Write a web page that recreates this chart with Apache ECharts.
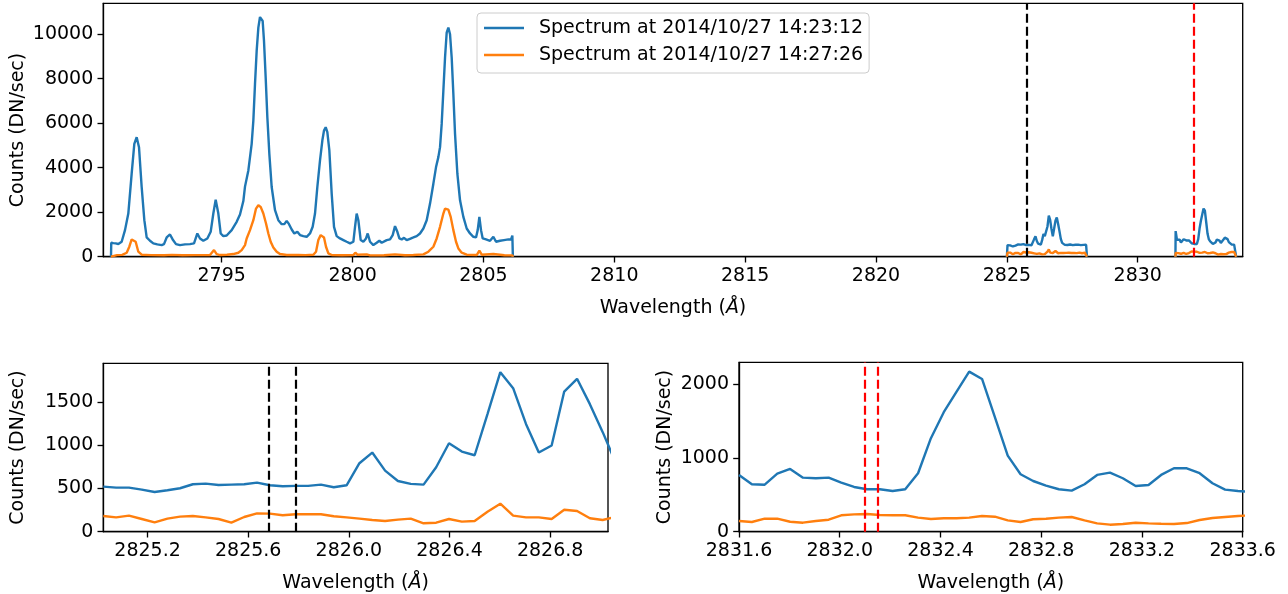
<!DOCTYPE html>
<html>
<head>
<meta charset="utf-8">
<title>IRIS NUV spectra</title>
<script src="https://cdn.jsdelivr.net/npm/echarts@6.0.0/dist/echarts.min.js"></script>
<style>
  html, body { margin: 0; padding: 0; background: #ffffff; }
  #chart { width: 1288px; height: 594px; }
</style>
</head>
<body>
<div id="chart"></div>
<script>
// ---- series labels -------------------------------------------------------
const nameA = 'Spectrum at 2014/10/27 14:23:12';
const nameB = 'Spectrum at 2014/10/27 14:27:26';

// ---- Mg II window (2790.8 - 2806.1 Å), counts in DN/sec -------------------
const mainWlA = [
  2790.770, 2790.780, 2790.859, 2790.950, 2791.050, 2791.178, 2791.305, 2791.432,
  2791.560, 2791.661, 2791.751, 2791.840, 2791.942, 2792.044, 2792.133, 2792.260,
  2792.387, 2792.540, 2792.706, 2792.795, 2792.897, 2793.024, 2793.126, 2793.254,
  2793.407, 2793.598, 2793.789, 2793.942, 2794.069, 2794.171, 2794.298, 2794.451,
  2794.579, 2794.680, 2794.770, 2794.871, 2794.961, 2795.062, 2795.190, 2795.381,
  2795.572, 2795.699, 2795.827, 2795.890, 2796.018, 2796.145, 2796.209, 2796.272,
  2796.336, 2796.400, 2796.463, 2796.502, 2796.565, 2796.616, 2796.680, 2796.744,
  2796.820, 2796.909, 2797.037, 2797.164, 2797.292, 2797.393, 2797.483, 2797.572,
  2797.674, 2797.775, 2797.890, 2797.992, 2798.119, 2798.247, 2798.374, 2798.476,
  2798.565, 2798.654, 2798.756, 2798.845, 2798.909, 2798.973, 2799.036, 2799.113,
  2799.202, 2799.291, 2799.393, 2799.520, 2799.648, 2799.775, 2799.903, 2800.030,
  2800.094, 2800.157, 2800.221, 2800.310, 2800.412, 2800.514, 2800.578, 2800.667,
  2800.794, 2800.922, 2801.023, 2801.113, 2801.176, 2801.304, 2801.431, 2801.533,
  2801.622, 2801.711, 2801.788, 2801.877, 2801.966, 2802.068, 2802.195, 2802.323,
  2802.450, 2802.577, 2802.705, 2802.832, 2802.960, 2803.087, 2803.189, 2803.278,
  2803.342, 2803.405, 2803.469, 2803.533, 2803.596, 2803.660, 2803.724, 2803.787,
  2803.851, 2803.915, 2804.004, 2804.106, 2804.233, 2804.361, 2804.488, 2804.615,
  2804.717, 2804.781, 2804.845, 2804.908, 2804.972, 2805.099, 2805.252, 2805.379,
  2805.481, 2805.634, 2805.787, 2805.953, 2806.055, 2806.105, 2806.125
];
const mainA = [
  0, 627, 610, 600, 570, 671, 1194, 1940,
  3730, 5073, 5371, 4924, 3133, 1641, 867, 716,
  597, 552, 522, 567, 865, 1000, 776, 567,
  522, 552, 567, 597, 1044, 820, 716, 820,
  1119, 1940, 2566, 1940, 1044, 925, 955, 1194,
  1567, 1900, 2500, 3150, 3879, 5073, 6117, 7758,
  9250, 10295, 10772, 10817, 10593, 9698, 8057, 6266,
  4625, 3133, 2089, 1641, 1462, 1462, 1611, 1462,
  1223, 1044, 1119, 970, 925, 895, 1044, 1343,
  1940, 3133, 4327, 5222, 5670, 5819, 5595, 4774,
  2835, 1343, 925, 821, 746, 671, 597, 671,
  1343, 1940, 1641, 746, 671, 821, 1044, 671,
  522, 627, 716, 627, 627, 746, 776, 970,
  1373, 1119, 820, 776, 850, 746, 806, 865,
  925, 1044, 1268, 1641, 2387, 3282, 4028, 4476,
  4924, 5968, 7460, 8952, 10071, 10295, 9996, 8952,
  7311, 5520, 3730, 2536, 1790, 1268, 1044, 895,
  865, 1194, 1790, 1194, 820, 776, 716, 895,
  671, 716, 746, 776, 776, 950, 0
];
const mainWlB = [
  2790.770, 2790.780, 2791.000, 2791.200, 2791.369, 2791.470, 2791.560, 2791.623,
  2791.713, 2791.814, 2791.942, 2792.300, 2792.800, 2793.100, 2793.500, 2794.000,
  2794.400, 2794.553, 2794.617, 2794.706, 2794.808, 2794.935, 2795.200, 2795.444,
  2795.636, 2795.763, 2795.890, 2795.954, 2796.081, 2796.209, 2796.311, 2796.400,
  2796.489, 2796.591, 2796.693, 2796.782, 2796.871, 2796.973, 2797.100, 2797.228,
  2797.483, 2797.801, 2797.865, 2797.928, 2798.200, 2798.501, 2798.603, 2798.692,
  2798.782, 2798.845, 2798.909, 2798.985, 2799.075, 2799.202, 2799.600, 2800.030,
  2800.106, 2800.183, 2800.540, 2800.667, 2801.200, 2801.622, 2801.686, 2802.000,
  2802.323, 2802.705, 2802.896, 2803.087, 2803.214, 2803.342, 2803.469, 2803.533,
  2803.596, 2803.660, 2803.749, 2803.851, 2803.953, 2804.042, 2804.170, 2804.361,
  2804.743, 2804.845, 2804.934, 2805.379, 2805.443, 2805.800, 2806.115, 2806.125
];
const mainB = [
  0, 75, 70, 80, 179, 448, 776, 850,
  671, 224, 90, 70, 65, 80, 65, 70,
  70, 75, 149, 298, 119, 75, 90, 119,
  179, 298, 522, 820, 1194, 1641, 2163, 2313,
  2238, 1940, 1492, 1044, 671, 418, 224, 119,
  75, 75, 149, 75, 70, 90, 224, 746,
  970, 1000, 865, 448, 149, 75, 65, 75,
  179, 90, 104, 60, 65, 104, 60, 65,
  75, 104, 224, 448, 820, 1343, 1940, 2163,
  2208, 2119, 1790, 1194, 671, 373, 179, 90,
  75, 269, 90, 119, 60, 65, 60, 0
];

// ---- 2825 Å window: part shown in the lower-left panel --------------------
const win2Wl = [
  2825.024, 2825.075, 2825.126, 2825.177, 2825.228, 2825.279, 2825.329, 2825.380,
  2825.431, 2825.482, 2825.533, 2825.584, 2825.635, 2825.686, 2825.737, 2825.788,
  2825.838, 2825.889, 2825.940, 2825.991, 2826.042, 2826.093, 2826.144, 2826.195,
  2826.246, 2826.297, 2826.347, 2826.398, 2826.449, 2826.500, 2826.551, 2826.602,
  2826.653, 2826.704, 2826.755, 2826.806, 2826.856, 2826.907, 2826.958, 2827.009,
  2827.060
];
const win2A = [
  520, 509, 509, 486, 459, 479, 502, 548,
  555, 540, 544, 548, 567, 536, 525, 529,
  529, 544, 513, 536, 791, 914, 706, 586,
  552, 544, 745, 1022, 925, 883, 1358, 1843,
  1658, 1245, 914, 995, 1619, 1766, 1473, 1150,
  800
];
const win2B = [
  181, 166, 185, 147, 108, 151, 174, 181,
  166, 147, 104, 170, 212, 209, 190, 201,
  201, 201, 178, 166, 151, 135, 124, 139,
  151, 97, 104, 147, 116, 124, 231, 324,
  185, 166, 166, 147, 254, 239, 155, 135,
  170
];
// rest of the 2825 Å window, top panel only
const win2TailWl = [
  2827.111, 2827.162, 2827.213, 2827.264, 2827.315, 2827.366, 2827.416, 2827.467,
  2827.518, 2827.569, 2827.620, 2827.671, 2827.722, 2827.773, 2827.824, 2827.875,
  2827.925, 2827.976, 2828.027
];
const win2TailA = [
  620, 545, 530, 540, 525, 535, 550, 530,
  520, 540, 535, 525, 545, 530, 520, 540,
  530, 525, 535
];
const win2TailB = [
  150, 165, 180, 170, 160, 175, 185, 165,
  155, 170, 180, 160, 170, 185, 165, 155,
  170, 180, 165
];
const win2Edges = [2825.000, 2828.060];

// ---- 2832 Å window: part shown in the lower-right panel -------------------
const win3Wl = [
  2831.600, 2831.651, 2831.702, 2831.752, 2831.803, 2831.854, 2831.905, 2831.956,
  2832.006, 2832.057, 2832.108, 2832.159, 2832.210, 2832.260, 2832.311, 2832.362,
  2832.413, 2832.464, 2832.514, 2832.565, 2832.616, 2832.667, 2832.718, 2832.768,
  2832.819, 2832.870, 2832.921, 2832.972, 2833.022, 2833.073, 2833.124, 2833.175,
  2833.226, 2833.276, 2833.327, 2833.378, 2833.429, 2833.480, 2833.530, 2833.581,
  2833.632
];
const win3A = [
  768, 642, 636, 785, 849, 731, 723, 731,
  664, 605, 574, 574, 551, 574, 791, 1265,
  1617, 1896, 2166, 2067, 1549, 1029, 777, 686,
  623, 574, 555, 642, 768, 799, 723, 619,
  632, 768, 858, 858, 791, 655, 569, 551,
  540
];
const win3B = [
  145, 131, 176, 176, 135, 122, 145, 162,
  222, 235, 240, 226, 222, 222, 190, 172,
  181, 181, 190, 213, 203, 154, 131, 168,
  176, 190, 199, 154, 113, 95, 104, 122,
  113, 108, 104, 117, 158, 185, 199, 213,
  220
];
// samples of the 2832 Å window outside the lower-right panel, top panel only
const win3HeadWl = [2831.448, 2831.498, 2831.549];
const win3HeadA = [1150, 760, 700];
const win3HeadB = [170, 150, 160];
const win3TailWl = [2833.683, 2833.733];
const win3TailA = [545, 560];
const win3TailB = [215, 225];
const win3Edges = [2831.440, 2833.760];

// ---- reference wavelengths (dashed verticals) ------------------------------
const topBlackLine = 2825.735;
const topRedLine = 2832.128;
const leftBlackLines = [2825.683, 2825.786];
const rightRedLines = [2832.103, 2832.153];

// ---- tick values -----------------------------------------------------------
const topWlTicks = [2795, 2800, 2805, 2810, 2815, 2820, 2825, 2830];
const topCountTicks = [0, 2000, 4000, 6000, 8000, 10000];
const leftWlTicks = [2825.2, 2825.6, 2826.0, 2826.4, 2826.8];
const leftCountTicks = [0, 500, 1000, 1500];
const rightWlTicks = [2831.6, 2832.0, 2832.4, 2832.8, 2833.2, 2833.6];
const rightCountTicks = [0, 1000, 2000];

// ---- helpers ---------------------------------------------------------------
const FONT = 'DejaVu Sans';
const BLUE = '#1f77b4';
const ORANGE = '#ff7f0e';
const FS = 19;

function pairs(wl, counts) {
  return wl.map((w, i) => [w, counts[i]]);
}

function windowTrace(edges, head, core, tail) {
  return [[edges[0], 0]].concat(head, core, tail, [[edges[1], 0]]);
}

function spectrum(name, color, gi, data) {
  return {
    type: 'line', name: name, xAxisIndex: gi, yAxisIndex: gi,
    data: data, showSymbol: false, symbol: 'none', clip: true,
    lineStyle: { color: color, width: 2.4 }, itemStyle: { color: color },
    emphasis: { disabled: true }, z: 2
  };
}

function verticals(gi, xs, color) {
  return {
    type: 'line', xAxisIndex: gi, yAxisIndex: gi, data: [], silent: true, z: 4,
    markLine: {
      silent: true, animation: false, symbol: ['none', 'none'],
      label: { show: false }, emphasis: { disabled: true },
      lineStyle: { color: color, type: [9, 4], width: 2.2 },
      data: xs.map(x => ({ xAxis: x }))
    }
  };
}

const tickStyle = { color: '#000', width: 1.33 };
const labelBase = { color: '#000', fontFamily: FONT, fontSize: FS, margin: 10 };
const nameStyle = {
  color: '#000', fontFamily: FONT, fontSize: FS,
  rich: { a: { color: '#000', fontFamily: FONT, fontSize: FS, fontStyle: 'italic' } }
};

function xAxisFor(gi, min, max, ticks, fmt) {
  return {
    type: 'value', gridIndex: gi, min: min, max: max,
    name: 'Wavelength ({a|Å})', nameLocation: 'middle', nameGap: 42, nameMoveOverlap: false,
    nameTextStyle: nameStyle,
    axisLine: { show: true, onZero: false, lineStyle: tickStyle },
    axisTick: { show: true, inside: false, length: 5.8, lineStyle: tickStyle, customValues: ticks },
    axisLabel: Object.assign({ customValues: ticks, formatter: fmt }, labelBase),
    splitLine: { show: false }
  };
}

function yAxisFor(gi, max, ticks, gap) {
  return {
    type: 'value', gridIndex: gi, min: 0, max: max,
    name: 'Counts (DN/sec)', nameLocation: 'middle', nameGap: gap, nameMoveOverlap: false,
    nameTextStyle: nameStyle,
    axisLine: { show: true, onZero: false, lineStyle: tickStyle },
    axisTick: { show: true, inside: false, length: 5.8, lineStyle: tickStyle, customValues: ticks },
    axisLabel: Object.assign({ customValues: ticks, formatter: v => String(v) }, labelBase),
    splitLine: { show: false }
  };
}

const gridBase = { show: true, borderColor: '#000', borderWidth: 1.33, backgroundColor: 'transparent', outerBoundsMode: 'none', containLabel: false };

const win2TopA = windowTrace(win2Edges, [], pairs(win2Wl, win2A), pairs(win2TailWl, win2TailA));
const win2TopB = windowTrace(win2Edges, [], pairs(win2Wl, win2B), pairs(win2TailWl, win2TailB));
const win3TopA = windowTrace(win3Edges, pairs(win3HeadWl, win3HeadA), pairs(win3Wl, win3A), pairs(win3TailWl, win3TailA));
const win3TopB = windowTrace(win3Edges, pairs(win3HeadWl, win3HeadB), pairs(win3Wl, win3B), pairs(win3TailWl, win3TailB));

const option = {
  animation: false,
  backgroundColor: '#ffffff',
  textStyle: { fontFamily: FONT },
  grid: [
    Object.assign({ left: 103.3, top: 3.3, width: 1139.4, height: 253.4 }, gridBase),
    Object.assign({ left: 103.3, top: 363.3, width: 504.7, height: 168.4 }, gridBase),
    Object.assign({ left: 739, top: 362.3, width: 503.7, height: 169.4 }, gridBase)
  ],
  xAxis: [
    xAxisFor(0, 2790.476, 2834.01, topWlTicks, v => String(v)),
    xAxisFor(1, 2825.024, 2827.03, leftWlTicks, v => v.toFixed(1)),
    xAxisFor(2, 2831.6, 2833.6, rightWlTicks, v => v.toFixed(1))
  ],
  yAxis: [
    yAxisFor(0, 11390, topCountTicks, 76),
    yAxisFor(1, 1945, leftCountTicks, 76),
    yAxisFor(2, 2292, rightCountTicks, 64)
  ],
  legend: {
    data: [{ name: nameA, icon: 'rect' }, { name: nameB, icon: 'rect' }],
    orient: 'vertical', left: 477, top: 13,
    itemWidth: 40, itemHeight: 2.5, itemGap: 5,
    padding: [4, 6, 7, 7],
    backgroundColor: 'rgba(255,255,255,0.8)',
    borderColor: '#cccccc', borderWidth: 1, borderRadius: 4,
    selectedMode: false,
    textStyle: { color: '#000', fontFamily: FONT, fontSize: FS, lineHeight: 22, padding: [0, 0, 0, 10] }
  },
  series: [
    spectrum(nameA, BLUE, 0, pairs(mainWlA, mainA)),
    spectrum(nameA, BLUE, 0, win2TopA),
    spectrum(nameA, BLUE, 0, win3TopA),
    spectrum(nameB, ORANGE, 0, pairs(mainWlB, mainB)),
    spectrum(nameB, ORANGE, 0, win2TopB),
    spectrum(nameB, ORANGE, 0, win3TopB),
    spectrum(nameA, BLUE, 1, pairs(win2Wl, win2A)),
    spectrum(nameB, ORANGE, 1, pairs(win2Wl, win2B)),
    spectrum(nameA, BLUE, 2, pairs(win3Wl, win3A)),
    spectrum(nameB, ORANGE, 2, pairs(win3Wl, win3B)),
    verticals(0, [topBlackLine], '#000000'),
    verticals(0, [topRedLine], '#ff0000'),
    verticals(1, leftBlackLines, '#000000'),
    verticals(2, rightRedLines, '#ff0000')
  ]
};

const chart = echarts.init(document.getElementById('chart'), null, { renderer: 'canvas' });
chart.setOption(option);
</script>
</body>
</html>
